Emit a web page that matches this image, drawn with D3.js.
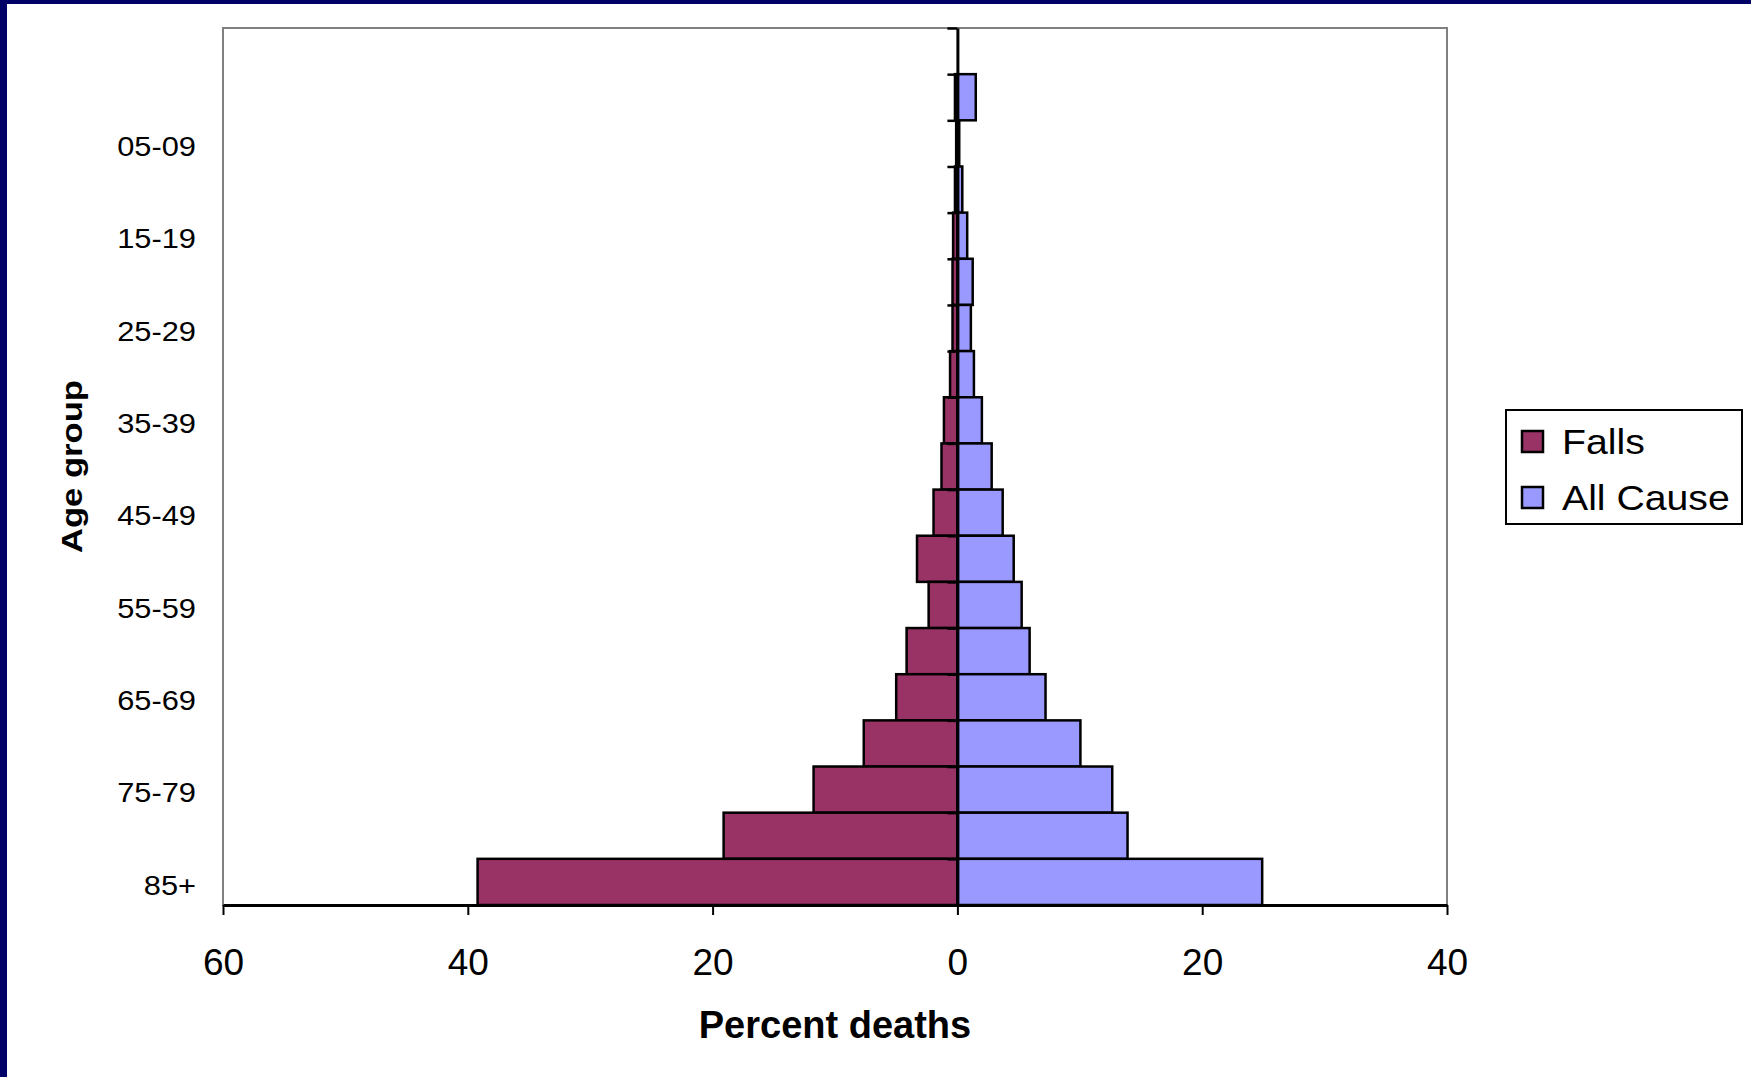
<!DOCTYPE html>
<html lang="en">
<head>
    <meta charset="UTF-8">
    <title>Falls vs All Cause deaths by age group</title>
    <script src="https://d3js.org/d3.v7.min.js"></script>
    <style>
        body {
            margin: 0;
            padding: 0;
            background: #fff;
        }
        svg {
            display: block;
            font-family: Arial, "Liberation Sans", sans-serif;
        }
        .frame-axis path, .frame-axis line {
            stroke: #000;
        }
    </style>
</head>
<body>
    <div id="chart"></div>
    <script>
        // Age groups, top to bottom (top band has no label / no data)
        const ageGroups = ["", "00-04", "05-09", "10-14", "15-19", "20-24", "25-29", "30-34", "35-39",
            "40-44", "45-49", "50-54", "55-59", "60-64", "65-69", "70-74", "75-79", "80-84", "85+"];

        // Percent of deaths in each age group
        const falls = [0, 0.2, 0.1, 0.2, 0.35, 0.4, 0.4, 0.6, 1.1, 1.3, 1.95, 3.3, 2.35, 4.15, 5.0, 7.65, 11.75, 19.1, 39.2];
        const allCause = [0, 1.5, 0.15, 0.4, 0.8, 1.25, 1.1, 1.35, 2.0, 2.8, 3.7, 4.6, 5.25, 5.9, 7.2, 10.05, 12.65, 13.9, 24.9];

        const xTicks = [-60, -40, -20, 0, 20, 40];
        const seriesNames = ["Falls", "All Cause"];
        const seriesColors = ["#993366", "#9999ff"];

        const width = 1751, height = 1077;
        const plot = { left: 223, right: 1447, top: 28, bottom: 905 };

        const svg = d3.select("#chart")
            .append("svg")
            .attr("width", width)
            .attr("height", height);

        svg.append("rect").attr("width", width).attr("height", height).attr("fill", "#fff");

        // navy slide frame (top + left)
        svg.append("rect").attr("x", 0).attr("y", 0).attr("width", width).attr("height", 4).attr("fill", "#000066");
        svg.append("rect").attr("x", 0).attr("y", 0).attr("width", 7).attr("height", height).attr("fill", "#000066");

        const x = d3.scaleLinear().domain([-60, 40]).range([plot.left, plot.right]);
        const y = d3.scaleBand().domain(ageGroups).range([plot.top, plot.bottom]).padding(0);
        const yEdge = d3.scaleLinear().domain([0, ageGroups.length]).range([plot.top, plot.bottom]);

        // plot area border
        svg.append("rect")
            .attr("x", plot.left)
            .attr("y", plot.top)
            .attr("width", plot.right - plot.left)
            .attr("height", plot.bottom - plot.top)
            .attr("fill", "none")
            .attr("stroke", "#808080")
            .attr("stroke-width", 2);

        const rows = ageGroups.map((g, i) => ({ group: g, falls: falls[i], all: allCause[i] }));

        // Falls to the left (negative), all cause to the right
        svg.append("g")
            .selectAll("rect")
            .data(rows.filter(d => d.falls > 0))
            .join("rect")
            .attr("x", d => x(-d.falls))
            .attr("y", d => y(d.group))
            .attr("width", d => x(0) - x(-d.falls))
            .attr("height", y.bandwidth())
            .attr("fill", seriesColors[0])
            .attr("stroke", "#000")
            .attr("stroke-width", 2.5);

        svg.append("g")
            .selectAll("rect")
            .data(rows.filter(d => d.all > 0))
            .join("rect")
            .attr("x", x(0))
            .attr("y", d => y(d.group))
            .attr("width", d => x(d.all) - x(0))
            .attr("height", y.bandwidth())
            .attr("fill", seriesColors[1])
            .attr("stroke", "#000")
            .attr("stroke-width", 2.5);

        // category axis at zero, ticks at band edges
        const catAxis = svg.append("g")
            .attr("class", "frame-axis")
            .attr("transform", `translate(${x(0)},0)`)
            .call(d3.axisLeft(yEdge)
                .tickValues(d3.range(0, ageGroups.length + 1))
                .tickSize(10)
                .tickSizeOuter(0)
                .tickFormat(""));
        catAxis.select(".domain").attr("stroke-width", 3);
        catAxis.selectAll(".tick line").attr("stroke-width", 2.5);

        // category labels at the left edge, every other one
        const labelAxis = svg.append("g")
            .attr("transform", `translate(${plot.left},0)`)
            .call(d3.axisLeft(y)
                .tickValues(ageGroups.filter((g, i) => (ageGroups.length - 1 - i) % 2 === 0 && g !== ""))
                .tickSize(0)
                .tickPadding(27));
        labelAxis.select(".domain").remove();
        labelAxis.selectAll("text")
            .attr("font-size", 28)
            .attr("dy", "0.45em")
            .attr("fill", "#000")
            .each(function () {
                const w = this.getComputedTextLength();
                d3.select(this).attr("textLength", w * 1.1).attr("lengthAdjust", "spacingAndGlyphs");
            });

        // value axis
        const xAxis = svg.append("g")
            .attr("class", "frame-axis")
            .attr("transform", `translate(0,${plot.bottom})`)
            .call(d3.axisBottom(x)
                .tickValues(xTicks)
                .tickFormat(d => Math.abs(d))
                .tickSize(10)
                .tickSizeOuter(0)
                .tickPadding(34));
        xAxis.select(".domain").attr("stroke-width", 3);
        xAxis.selectAll(".tick line").attr("stroke-width", 2);
        xAxis.selectAll("text").attr("font-size", 37).attr("fill", "#000");

        // axis titles
        svg.append("text")
            .attr("x", (plot.left + plot.right) / 2)
            .attr("y", 1038)
            .attr("text-anchor", "middle")
            .attr("font-size", 38)
            .attr("font-weight", "bold")
            .text("Percent deaths");

        svg.append("text")
            .attr("transform", `translate(82,${(plot.top + plot.bottom) / 2}) rotate(-90)`)
            .attr("text-anchor", "middle")
            .attr("font-size", 29)
            .attr("font-weight", "bold")
            .attr("textLength", 173)
            .attr("lengthAdjust", "spacingAndGlyphs")
            .text("Age group");

        // legend
        const legend = svg.append("g").attr("transform", "translate(1506,410)");
        legend.append("rect")
            .attr("width", 236)
            .attr("height", 114)
            .attr("fill", "#fff")
            .attr("stroke", "#000")
            .attr("stroke-width", 2);

        const item = legend.selectAll("g.item")
            .data(seriesNames)
            .join("g")
            .attr("class", "item")
            .attr("transform", (d, i) => `translate(16,${21 + i * 56})`);
        item.append("rect")
            .attr("width", 21)
            .attr("height", 21)
            .attr("fill", (d, i) => seriesColors[i])
            .attr("stroke", "#000")
            .attr("stroke-width", 2.5);
        item.append("text")
            .attr("x", 40)
            .attr("y", 23)
            .attr("font-size", 35)
            .text(d => d)
            .each(function () {
                const w = this.getComputedTextLength();
                d3.select(this).attr("textLength", w * 1.12).attr("lengthAdjust", "spacingAndGlyphs");
            });
    </script>
</body>
</html>
